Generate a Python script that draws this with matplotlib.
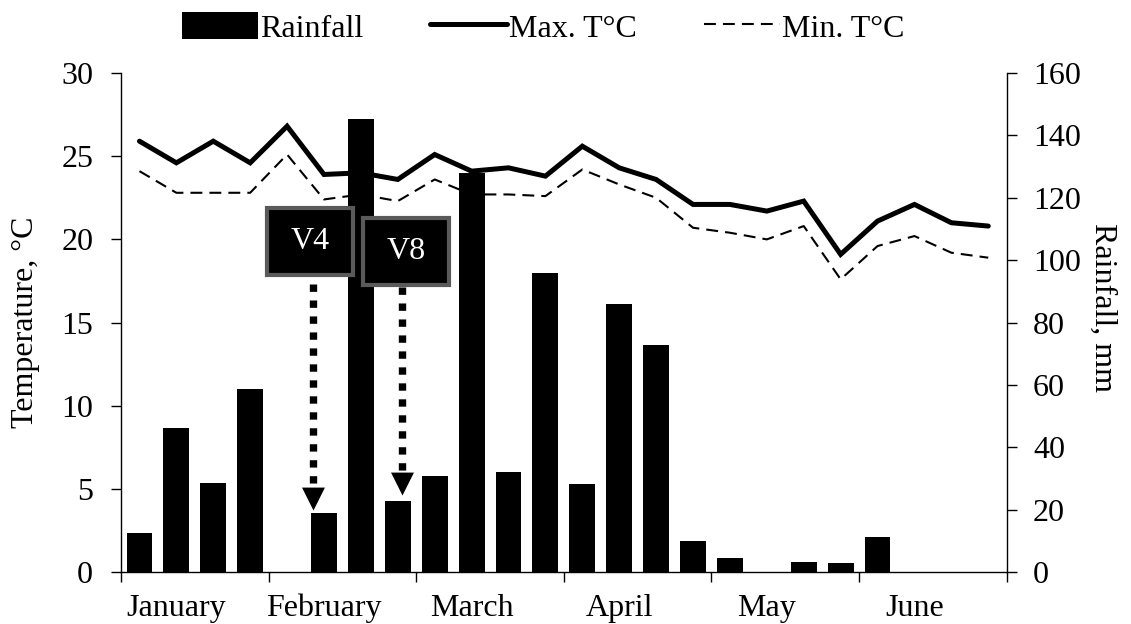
import matplotlib
matplotlib.use("Agg")
import matplotlib.pyplot as plt
import numpy as np
from matplotlib.patches import Patch, Rectangle
from matplotlib.lines import Line2D

# weekly data, four periods per month (January - June)
months = ["January", "February", "March", "April", "May", "June"]
rainfall_mm = [12.7, 46.1, 28.7, 58.8, 0.0, 18.9, 145.2, 22.9, 31.0, 127.9, 32.2, 96.0,
               28.2, 86.1, 72.8, 9.9, 4.5, 0.0, 3.3, 3.0, 11.4, 0.0, 0.0, 0.0]
max_temp = [25.9, 24.6, 25.9, 24.6, 26.8, 23.9, 24.0, 23.6, 25.1, 24.1, 24.3, 23.8,
            25.6, 24.3, 23.6, 22.1, 22.1, 21.7, 22.3, 19.1, 21.1, 22.1, 21.0, 20.8]
min_temp = [24.1, 22.8, 22.8, 22.8, 25.1, 22.4, 22.7, 22.3, 23.6, 22.7, 22.7, 22.6,
            24.2, 23.3, 22.5, 20.7, 20.4, 20.0, 20.8, 17.6, 19.6, 20.2, 19.2, 18.9]

# growth stage call-outs: label, box centre (x, temp), arrow x, arrow start and tip (temp)
stage_labels = ["V4", "V8"]
stage_box_x = [4.62, 7.22]
stage_box_y = [19.87, 19.27]
stage_arrow_x = [4.71, 7.12]
stage_arrow_top = [17.3, 17.15]
stage_arrow_tip = [3.74, 4.65]

plt.rcParams["font.family"] = ["Liberation Serif", "DejaVu Serif"]
plt.rcParams["font.size"] = 23

periods = np.arange(len(rainfall_mm))
weeks_per_month = 4

fig = plt.figure(figsize=(11.31, 6.24), dpi=100)
ax = fig.add_axes([0.1070, 0.0829, 0.7831, 0.8002])
ax2 = ax.twinx()

# rainfall bars on the right axis, behind the temperature lines
ax2.bar(periods, rainfall_mm, width=0.7, color="black", edgecolor="none")
ax2.set_ylim(0, 160)
ax2.set_yticks(np.arange(0, 161, 20))
ax2.set_ylabel("Rainfall, mm", rotation=270, labelpad=34)
ax2.yaxis.set_label_coords(1.125, 0.53)

ax.set_zorder(ax2.get_zorder() + 1)
ax.patch.set_visible(False)

ax.plot(periods, max_temp, color="black", lw=3.6, solid_capstyle="round",
        solid_joinstyle="miter")
ax.plot(periods, min_temp, color="black", lw=1.5, linestyle=(0, (5.7, 3.4)))
ax.set_ylim(0, 30)
ax.set_yticks(np.arange(0, 31, 5))
ax.set_ylabel("Temperature, °C", labelpad=15)

ax.set_xlim(-0.5, len(periods) - 0.5)
label_pos = np.arange(len(months)) * weeks_per_month + 1
ax.set_xticks(label_pos)
ax.set_xticklabels(months)
ax.set_xticks(np.arange(len(months) + 1) * weeks_per_month - 0.5, minor=True)
ax.tick_params(axis="x", which="major", length=0, pad=15.5)
ax.tick_params(axis="x", which="minor", length=7, width=1.0, direction="out")
ax.tick_params(axis="y", length=7, width=1.0, direction="out", pad=13)
ax2.tick_params(axis="y", length=7, width=1.0, direction="out", pad=12)
ax2.tick_params(axis="x", which="both", length=0)

for a in (ax, ax2):
    a.spines["top"].set_visible(False)
    for side in ("left", "right", "bottom"):
        a.spines[side].set_linewidth(1.0)
ax.spines["right"].set_visible(False)
ax2.spines["left"].set_visible(False)
ax2.spines["bottom"].set_visible(False)

# V4 / V8 boxes with dotted arrows
box_w, box_h = 2.35, 4.0
for label, bx, by, arx, top, tip in zip(stage_labels, stage_box_x, stage_box_y,
                                        stage_arrow_x, stage_arrow_top, stage_arrow_tip):
    ax.add_patch(Rectangle((bx - box_w / 2, by - box_h / 2), box_w, box_h,
                           facecolor="black", edgecolor="#5a5a5a", lw=3.0, zorder=5))
    ax.text(bx, by, label, color="white", ha="center", va="center", zorder=6)
    ax.plot([arx, arx], [top, tip + 1.3], color="black", lw=5.3,
            linestyle=(0, (1.0, 1.17)), dash_capstyle="butt", zorder=5)
    ax.plot([arx], [tip], marker=[(0, 0), (-1, 2), (1, 2)], markersize=33,
            color="black", markeredgewidth=0, zorder=5)

handles = [
    Patch(facecolor="black", edgecolor="none", label="Rainfall"),
    Line2D([], [], color="black", lw=3.6, solid_capstyle="round", label="Max. T°C"),
    Line2D([], [], color="black", lw=1.5, linestyle=(0, (5.7, 3.4)), label="Min. T°C"),
]
fig.legend(handles=handles, loc="center", bbox_to_anchor=(543 / 1131, 1 - 28 / 624),
           ncol=3, frameon=False, handlelength=2.4, handleheight=0.9,
           handletextpad=0.05, columnspacing=2.1, borderaxespad=0)

fig.savefig("out.png", dpi=100)
